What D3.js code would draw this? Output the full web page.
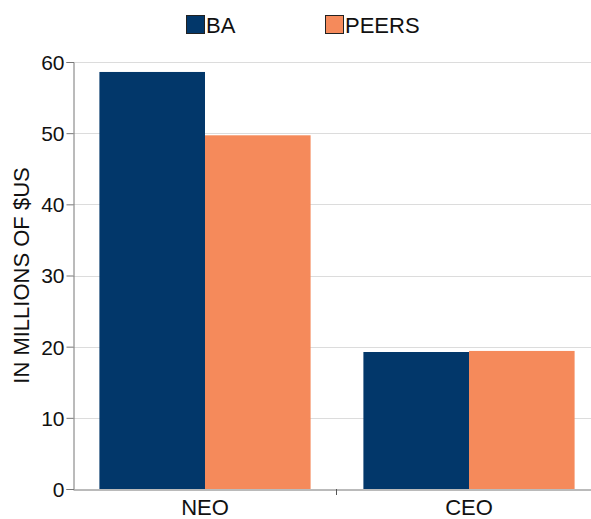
<!DOCTYPE html>
<html>
<head>
<meta charset="utf-8">
<script src="https://cdn.jsdelivr.net/npm/d3@7"></script>
<style>
  body { margin: 0; background: #fff; }
  text { font-family: "Liberation Sans", Arial, sans-serif; fill: #111; }
</style>
</head>
<body>
<script>
var categories = ["NEO", "CEO"];
var seriesNames = ["BA", "PEERS"];
var baValues = [58.6, 19.25];
var peersValues = [49.7, 19.4];
var yTicks = [0, 10, 20, 30, 40, 50, 60];
var colors = ["#02376a", "#f58a5b"];

var W = 591, H = 519;
var margin = {left: 73, right: -10, top: 62, bottom: 30};

var svg = d3.select("body").append("svg")
    .attr("width", W)
    .attr("height", H);

var x = d3.scaleBand()
    .domain(categories)
    .range([margin.left, W - margin.right])
    .paddingInner(0)
    .paddingOuter(0);

var xs = d3.scaleBand()
    .domain(seriesNames)
    .range([x.bandwidth() * 0.1, x.bandwidth() * 0.9]);

var y = d3.scaleLinear()
    .domain([0, 60])
    .range([H - margin.bottom, margin.top]);

// grid
svg.append("g")
    .selectAll("line")
    .data(yTicks.slice(1))
    .enter().append("line")
    .attr("x1", margin.left)
    .attr("x2", W)
    .attr("y1", function(d) { return Math.round(y(d)) + 0.5; })
    .attr("y2", function(d) { return Math.round(y(d)) + 0.5; })
    .attr("stroke", "#dcdcdc")
    .attr("stroke-width", 1);

// bars
var rows = categories.map(function(c, i) {
    return [{cat: c, s: "BA", v: baValues[i]}, {cat: c, s: "PEERS", v: peersValues[i]}];
});

svg.append("g")
    .selectAll("g")
    .data(rows)
    .enter().append("g")
    .attr("transform", function(d, i) { return "translate(" + x(categories[i]) + ",0)"; })
    .selectAll("rect")
    .data(function(d) { return d; })
    .enter().append("rect")
    .attr("x", function(d) { return xs(d.s); })
    .attr("y", function(d) { return y(d.v); })
    .attr("width", xs.bandwidth())
    .attr("height", function(d) { return y(0) - y(d.v); })
    .attr("fill", function(d) { return colors[seriesNames.indexOf(d.s)]; });

// y axis
var yAxis = d3.axisLeft(y).tickValues(yTicks).tickSize(7).tickPadding(2);
var gy = svg.append("g")
    .attr("transform", "translate(" + (margin.left + 0.5) + ",0)")
    .call(yAxis);
gy.select(".domain").attr("stroke", "#777");
gy.selectAll(".tick line").attr("stroke", "#777");
gy.selectAll(".tick text")
    .style("font-size", "21px")
    .attr("dy", "0.35em")
    .attr("fill", "#111");

// x axis
var xAxis = d3.axisBottom(x).tickSize(0).tickPadding(10);
var gx = svg.append("g")
    .attr("transform", "translate(0," + (y(0) + 0.5) + ")")
    .call(xAxis);
gx.select(".domain").attr("stroke", "#777");
gx.selectAll(".tick text")
    .style("font-size", "22px")
    .attr("fill", "#111");

// separator tick between categories
svg.append("line")
    .attr("x1", x("CEO") - 0.5)
    .attr("x2", x("CEO") - 0.5)
    .attr("y1", y(0))
    .attr("y2", y(0) + 6)
    .attr("stroke", "#555");

// y title
svg.append("text")
    .attr("transform", "translate(29," + ((y(0) + y(60)) / 2) + ") rotate(-90)")
    .attr("text-anchor", "middle")
    .style("font-size", "22px")
    .text("IN MILLIONS OF $US");

// legend
var legendX = [186, 325];
var lg = svg.append("g")
    .selectAll("g")
    .data(seriesNames)
    .enter().append("g")
    .attr("transform", function(d, i) { return "translate(" + legendX[i] + ",15)"; });
lg.append("rect")
    .attr("x", 0.5)
    .attr("y", 0.5)
    .attr("width", 18)
    .attr("height", 18)
    .attr("fill", function(d, i) { return colors[i]; })
    .attr("stroke", "#222")
    .attr("stroke-width", 1);
lg.append("text")
    .attr("x", 20)
    .attr("y", 18)
    .style("font-size", "22px")
    .text(function(d) { return d; });
</script>
</body>
</html>
